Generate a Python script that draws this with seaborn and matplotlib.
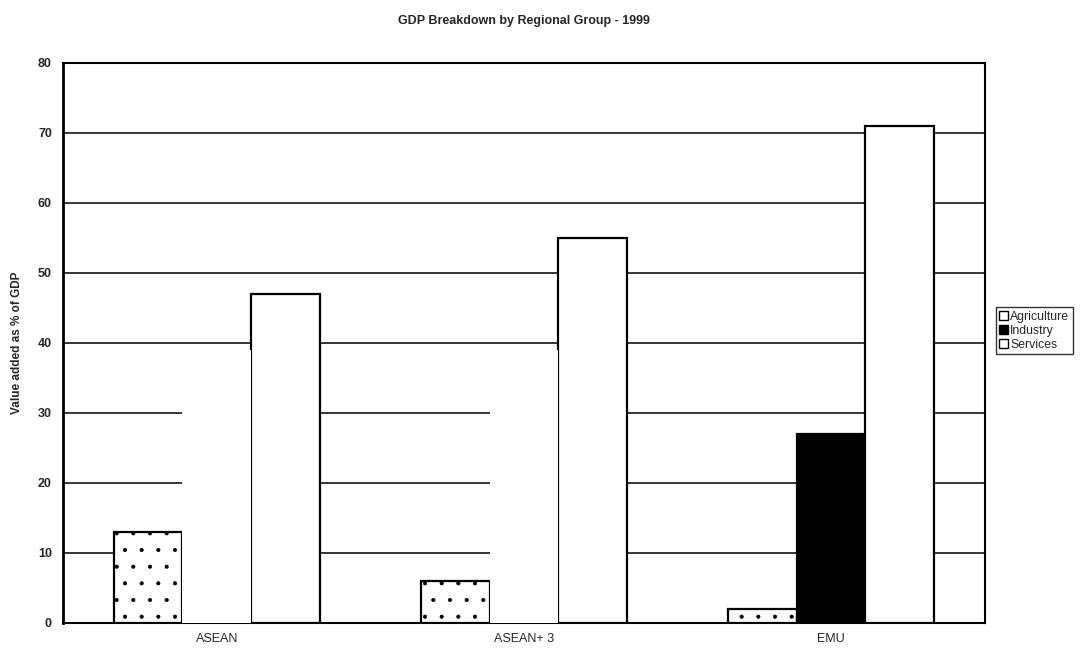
import matplotlib
matplotlib.use("Agg")
import matplotlib.pyplot as plt
from matplotlib.patches import Patch
import pandas as pd
import seaborn as sns

# Datos
regions = ["ASEAN", "ASEAN+ 3", "EMU"]
sectors = ["Agriculture", "Industry", "Services"]
agriculture = [13, 6, 2]
industry = [39, 39, 27]
services = [47, 55, 71]
y_ticks = [0, 10, 20, 30, 40, 50, 60, 70, 80]

df = pd.DataFrame({
    "region": regions * 3,
    "sector": [s for s in sectors for _ in regions],
    "value": agriculture + industry + services,
})

sns.set_style("white")
plt.rcParams["font.family"] = ["Liberation Sans", "DejaVu Sans"]
plt.rcParams["hatch.linewidth"] = 0.5

fig = plt.figure(figsize=(10.88, 6.55), dpi=100)
ax = fig.add_axes([0.058, 0.049, 0.847, 0.855])

colores = {"Agriculture": "white", "Industry": "black", "Services": "white"}
sns.barplot(data=df, x="region", y="value", hue="sector", order=regions,
            hue_order=sectors, palette=colores, edgecolor="black",
            linewidth=1.6, width=0.67, legend=False, ax=ax, zorder=3)

# Agricultura con trama punteada (poco densa, como en el escaneo)
for bar in ax.containers[0]:
    bar.set_hatch(".")
# En el escaneo las barras de industria de ASEAN salen en blanco
for bar in list(ax.containers[1])[:2]:
    bar.set_facecolor("white")
    bar.set_edgecolor("none")
    bar.set_zorder(4)

ax.set_ylim(0, 80)
ax.set_yticks(y_ticks)
ax.yaxis.grid(True, color="black", linewidth=1.1)
ax.set_axisbelow(True)
for sp in ax.spines.values():
    sp.set_color("black")
    sp.set_linewidth(1.5)
ax.spines["left"].set_linewidth(2)

ax.tick_params(axis="y", direction="out", length=5, width=1.2, labelsize=9, pad=3)
ax.tick_params(axis="x", length=0, labelsize=9, pad=7)
for lab in ax.get_yticklabels():
    lab.set_fontweight("bold")

ax.set_xlabel("")
ax.set_ylabel("Value added as % of GDP", fontsize=8.5, fontweight="bold", labelpad=11)
ax.set_title("GDP Breakdown by Regional Group - 1999", fontsize=9,
             fontweight="bold", pad=28)

handles = [Patch(facecolor="white", edgecolor="black", label="Agriculture"),
           Patch(facecolor="black", edgecolor="black", label="Industry"),
           Patch(facecolor="white", edgecolor="black", label="Services")]
leg = fig.legend(handles=handles, loc="center left", bbox_to_anchor=(0.915, 0.495),
                 fontsize=8.8, frameon=True, fancybox=False, handlelength=0.75,
                 handleheight=0.75, handletextpad=0.15, labelspacing=0.15,
                 borderpad=0.3, borderaxespad=0)
leg.get_frame().set_edgecolor("black")
leg.get_frame().set_linewidth(1)

fig.savefig("out.png", dpi=100)
